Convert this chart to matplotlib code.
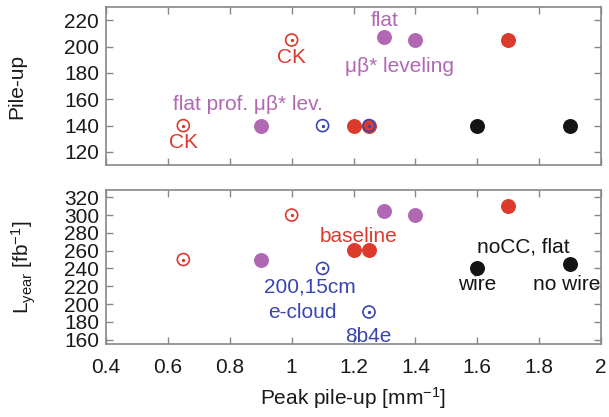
import matplotlib
matplotlib.use("Agg")
import matplotlib.pyplot as plt

plt.rcParams['font.family'] = ['Liberation Sans', 'DejaVu Sans']
plt.rcParams['mathtext.fontset'] = 'custom'
plt.rcParams['mathtext.rm'] = 'Liberation Sans'
plt.rcParams['mathtext.it'] = 'Liberation Sans:italic'
plt.rcParams['mathtext.default'] = 'regular'

RED = '#dc3a2c'
PURPLE = '#b068b2'
BLUE = '#3a46b0'
BLACK = '#141414'

# peak pile-up density [mm^-1]
red_open_x = [0.65, 1.0]
purple_x = [0.9, 1.3, 1.4]
blue_open_x = [1.1, 1.25]
red_x = [1.2, 1.25, 1.7]
black_x = [1.6, 1.9]

# pile-up (top panel)
red_open_pu = [140, 205]
purple_pu = [140, 207, 205]
blue_open_pu = [140, 140]
red_pu = [140, 140, 205]
black_pu = [140, 140]

# L_year [fb^-1] (bottom panel)
red_open_L = [250, 300]
purple_L = [250, 305, 300]
blue_open_L = [240, 191]
red_L = [261, 261, 310]
black_L = [241, 245]

top_labels = [
    ('CK', 0.65, 127, RED),
    ('CK', 1.0, 192, RED),
    ('flat prof. \u03bc\u03b2* lev.', 0.86, 156, PURPLE),
    ('flat', 1.3, 220, PURPLE),
    ('\u03bc\u03b2* leveling', 1.35, 185, PURPLE),
]
bottom_labels = [
    ('baseline', 1.215, 276, RED),
    ('200,15cm', 1.06, 219, BLUE),
    ('e-cloud', 1.035, 190, BLUE),
    ('8b4e', 1.247, 163, BLUE),
    ('noCC, flat', 1.75, 264, BLACK),
    ('wire', 1.6, 222, BLACK),
    ('no wire', 1.89, 222, BLACK),
]


def draw_panel(ax, ro, pu, bo, rf, bk, labels):
    ax.scatter(purple_x, pu, s=95, color=PURPLE, zorder=3)
    ax.scatter(red_x, rf, s=95, color=RED, zorder=3)
    ax.scatter(black_x, bk, s=95, color=BLACK, zorder=3)
    ax.scatter(red_open_x, ro, s=75, facecolors='none', edgecolors=RED, linewidths=1.2, zorder=4)
    ax.scatter(red_open_x, ro, s=2, color=RED, zorder=4)
    ax.scatter(blue_open_x, bo, s=75, facecolors='none', edgecolors=BLUE, linewidths=1.2, zorder=4)
    ax.scatter(blue_open_x, bo, s=2, color=BLUE, zorder=4)
    for txt, x, y, c in labels:
        ax.text(x, y, txt, color=c, fontsize=15, ha='center', va='center')
    ax.set_xlim(0.4, 2.0)
    ax.tick_params(direction='in', top=True, right=True, length=5, width=1,
                   color='#888888', labelsize=15, labelcolor='#1a1a1a', pad=5)
    ax.tick_params(axis='x', pad=10)
    for sp in ax.spines.values():
        sp.set_color('#888888')
        sp.set_linewidth(1.2)


fig = plt.figure(figsize=(6.09, 4.17), dpi=100)
ax1 = fig.add_axes([0.174, 0.604, 0.813, 0.379])
ax2 = fig.add_axes([0.174, 0.175, 0.813, 0.369])

draw_panel(ax1, red_open_pu, purple_pu, blue_open_pu, red_pu, black_pu, top_labels)
ax1.set_ylim(110, 230)
ax1.set_yticks([120, 140, 160, 180, 200, 220])
ax1.set_xticks([0.4, 0.6, 0.8, 1.0, 1.2, 1.4, 1.6, 1.8, 2.0])
ax1.set_xticklabels([])
ax1.set_ylabel('Pile-up', fontsize=15, color='#1a1a1a', labelpad=27)

draw_panel(ax2, red_open_L, purple_L, blue_open_L, red_L, black_L, bottom_labels)
ax2.set_ylim(155, 328)
ax2.set_yticks(list(range(160, 321, 20)))
ax2.set_xticks([0.4, 0.6, 0.8, 1.0, 1.2, 1.4, 1.6, 1.8, 2.0])
ax2.set_xticklabels(['0.4', '0.6', '0.8', '1', '1.2', '1.4', '1.6', '1.8', '2'])
ax2.set_ylabel(r'L$_{year}$ [fb$^{-1}$]', fontsize=15, color='#1a1a1a', labelpad=19)
ax2.set_xlabel(r'Peak pile-up [mm$^{-1}$]', fontsize=15, color='#1a1a1a', labelpad=6)

fig.savefig('out.png', dpi=100)
